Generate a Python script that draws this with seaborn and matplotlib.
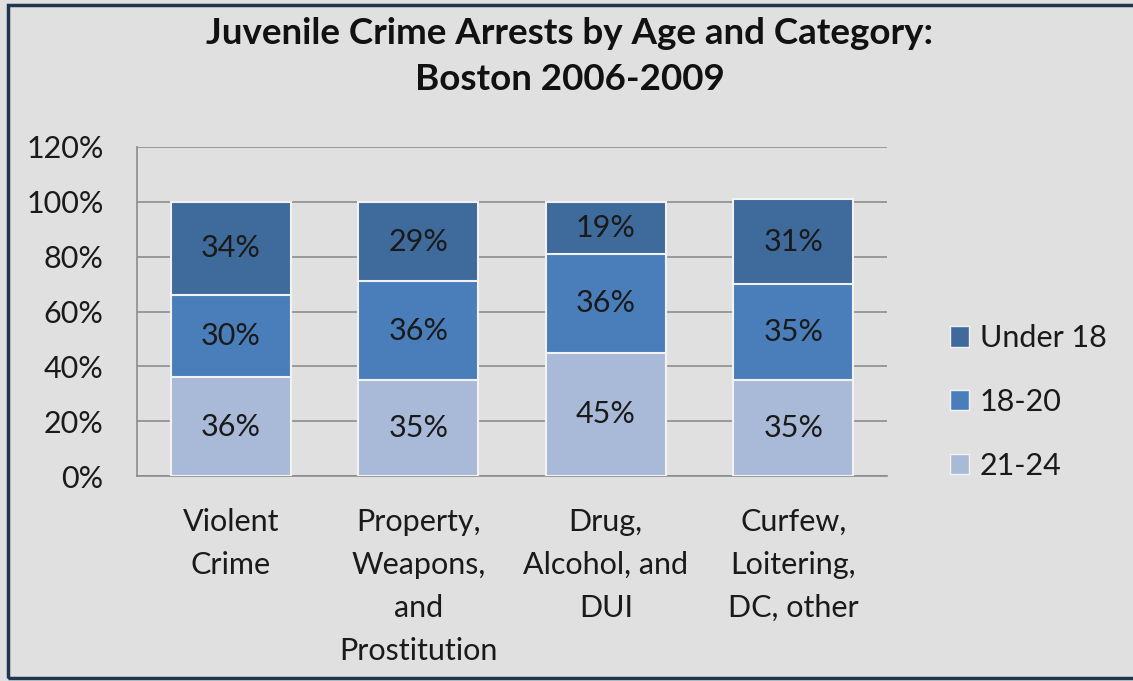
import numpy as np
import pandas as pd
import seaborn as sns
import matplotlib.pyplot as plt
from matplotlib.patches import Patch, Rectangle

# 数据：各类别中三个年龄段所占比例（%）
categories = ["Violent\nCrime", "Property,\nWeapons,\nand\nProstitution",
              "Drug,\nAlcohol, and\nDUI", "Curfew,\nLoitering,\nDC, other"]
age_21_24 = [36, 35, 45, 35]
age_18_20 = [30, 36, 36, 35]
under_18 = [34, 29, 19, 31]

col_under18 = "#3F6A9C"
col_1820 = "#4A7EBB"
col_2124 = "#A9BAD8"
bg = "#E0E0E0"

sns.set_theme(style="white")
plt.rcParams['font.family'] = ['Lato', 'DejaVu Sans']

df = pd.DataFrame({"category": categories, "a": age_21_24, "b": age_18_20, "c": under_18})
df["cum_b"] = df["a"] + df["b"]
df["cum_c"] = df["cum_b"] + df["c"]

fig = plt.figure(figsize=(11.33, 6.81), dpi=100)
fig.patch.set_facecolor(bg)
ax = fig.add_axes([137 / 1133, 1 - 476 / 681, 750 / 1133, 329 / 681])
ax.set_facecolor(bg)

# 叠加画法：先画总高，再画下面两段
for col, c in [("cum_c", col_under18), ("cum_b", col_1820), ("a", col_2124)]:
    sns.barplot(data=df, x="category", y=col, color=c, width=0.64,
                edgecolor="#F2F2F2", linewidth=1.5, saturation=1, ax=ax, zorder=3)

# 数据标签
for i in range(len(categories)):
    segs = [(0, age_21_24[i]), (age_21_24[i], age_18_20[i]),
            (age_21_24[i] + age_18_20[i], under_18[i])]
    for base, h in segs:
        ax.text(i, base + h / 2, f"{h}%", ha="center", va="center",
                fontsize=22, color="#1a1a1a", zorder=4)

ax.set_ylim(0, 120)
ax.set_xlim(-0.5, 3.5)
ax.set_yticks(range(0, 121, 20))
ax.set_yticklabels([f"{v}%" for v in range(0, 121, 20)])
ax.yaxis.grid(True, color="#8C8C8C", linewidth=1.2, zorder=0)
ax.set_axisbelow(True)
ax.tick_params(axis="y", length=0, pad=24, labelsize=22, labelcolor="#1a1a1a")
ax.tick_params(axis="x", length=0, labelbottom=False)

# 类别标签（多行，行距较大）
for i, name in enumerate(categories):
    ax.text(i, -(508 - 476) / 329, name, transform=ax.get_xaxis_transform(),
            ha="center", va="top", fontsize=22, linespacing=1.65, color="#1a1a1a")

ax.set_xlabel("")
ax.set_ylabel("")
for s in ["top", "right"]:
    ax.spines[s].set_visible(False)
for s in ["left", "bottom"]:
    ax.spines[s].set_color("#8C8C8C")
    ax.spines[s].set_linewidth(1.2)

fig.text(0.503, 1 - 33 / 681, "Juvenile Crime Arrests by Age and Category:", ha="center", va="center",
         fontsize=26.5, fontweight="bold", color="#111111")
fig.text(0.503, 1 - 79 / 681, "Boston 2006-2009", ha="center", va="center",
         fontsize=26.5, fontweight="bold", color="#111111")

handles = [Patch(facecolor=col_under18, edgecolor="#F2F2F2"),
           Patch(facecolor=col_1820, edgecolor="#F2F2F2"),
           Patch(facecolor=col_2124, edgecolor="#F2F2F2")]
fig.legend(handles, ["Under 18", "18-20", "21-24"], loc="center left",
           bbox_to_anchor=(922 / 1133, 1 - 402 / 681), frameon=False, fontsize=22,
           handlelength=0.65, handleheight=0.65, handletextpad=0.35, labelspacing=1.17,
           labelcolor="#1a1a1a")

# 外框
fig.patches.append(Rectangle((8 / 1133, 3 / 681), 1.2, 673 / 681, transform=fig.transFigure,
                             fill=False, edgecolor="#1F3550", linewidth=2.5))

fig.savefig("out.png", dpi=100, facecolor=bg)
